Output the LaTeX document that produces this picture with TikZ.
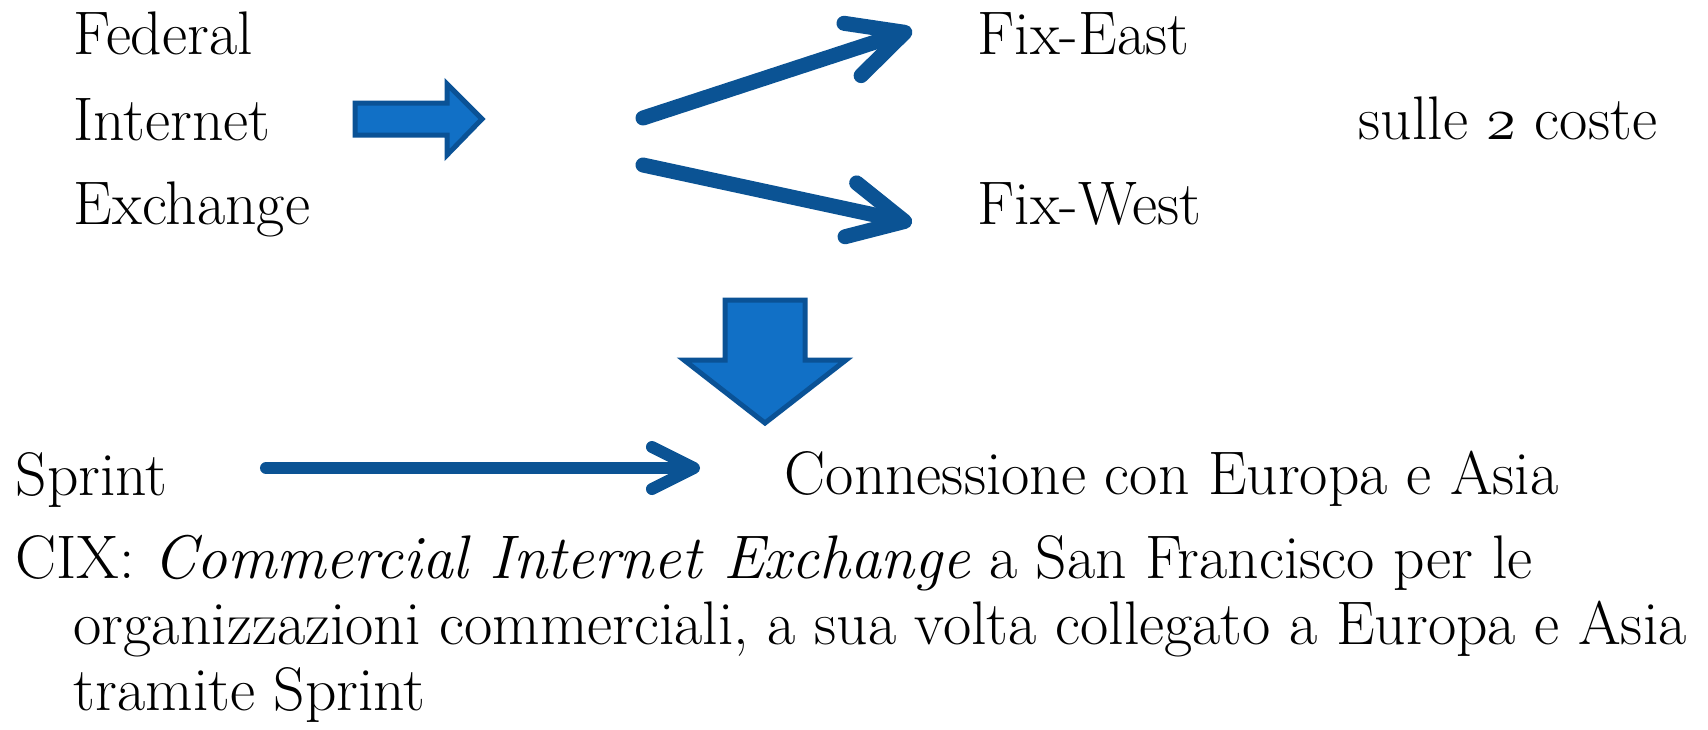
\documentclass[tikz,border=0pt]{standalone}
\usepackage{fontspec}
\usetikzlibrary{arrows.meta}
\definecolor{arrowblue}{RGB}{11,83,148}
\definecolor{blockblue}{RGB}{17,112,198}
\definecolor{blockedge}{RGB}{10,82,150}
\newcommand{\txtsize}{\fontsize{17.5}{21}\selectfont}
\newcommand{\oldtwo}{{\usefont{OML}{cmm}{m}{it}2}}

\tikzset{
  txt/.style={anchor=base west,inner sep=0pt,font=\txtsize},
  thinarrow/.style={arrowblue,line width=0.12cm,line cap=round,
    -{Straight Barb[length=0.42cm,width=0.42cm,round]}},
  fatarrow/.style={arrowblue,line width=0.15cm,line cap=round,
    -{Straight Barb[length=0.55cm,width=0.55cm,round]}},
  blockarrow/.style={fill=blockblue,draw=blockedge,line width=0.05cm,line join=miter}
}

\begin{document}
\begin{tikzpicture}[x=0.01cm,y=-0.01cm]
  \useasboundingbox (0,0) rectangle (1708,729);
  % upper block
  \node (federal)  [txt] at (73,54)  {Federal};
  \node (internet) [txt] at (73,140) {Internet};
  \node (exchange) [txt] at (73,224) {Exchange};
  \node (fixeast)  [txt] at (977,54)  {Fix-East};
  \node (fixwest)  [txt] at (977,224) {Fix-West};
  \node (coste)    [txt] at (1358,139) {sulle \oldtwo{} coste};
  % block arrows
  \draw[blockarrow] (355,103) -- (447,103) -- (447,84) -- (482,119)
    -- (447,155) -- (447,135) -- (355,135) -- cycle;
  \draw[blockarrow] (725,300) -- (805,300) -- (805,360) -- (846,360)
    -- (765,423) -- (684,360) -- (725,360) -- cycle;
  % split arrows
  \coordinate (splitup) at (643,118);
  \coordinate (splitdn) at (643,165);
  \coordinate (tipeast) at (912,30);
  \coordinate (tipwest) at (912,223);
  \draw[fatarrow] (splitup) -- (tipeast);
  \draw[fatarrow] (splitdn) -- (tipwest);
  % lower block
  \node (sprint) [txt] at (15,495)  {Sprint};
  \node (conn)   [txt] at (784,494) {Connessione con Europa e Asia};
  \coordinate (sprintend) at (700,468);
  \draw[thinarrow] (266,468) -- (sprintend);
  \node (cix)   [txt] at (15,578)
    {CIX: \textit{Commercial Internet Exchange} a San Francisco per le};
  \node (org)   [txt] at (73,644)
    {organizzazioni commerciali, a sua volta collegato a Europa e Asia};
  \node (trami) [txt] at (73,710) {tramite Sprint};
\end{tikzpicture}
\end{document}
